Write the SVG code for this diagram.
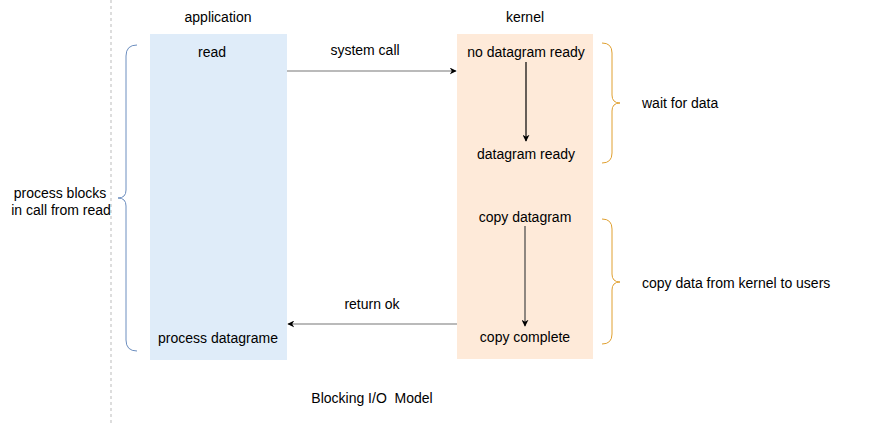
<svg xmlns="http://www.w3.org/2000/svg" width="874" height="425" viewBox="0 0 874 425">
<style>
text{font-family:"Liberation Sans",Arial,Helvetica,sans-serif;font-size:14px;fill:#000}
.c{text-anchor:middle}
.conn{fill:none;stroke-width:1.2}
.brace{fill:none;stroke-width:1}
</style>
<defs>
<marker id="ah" viewBox="0 0 10 10" refX="9" refY="5" markerWidth="7" markerHeight="7" markerUnits="userSpaceOnUse" orient="auto">
<path d="M0,0 L10,5 L0,10 L3,5 Z" fill="#000"/>
</marker>
</defs>
<rect width="874" height="425" fill="#fff"/>
<line x1="111" y1="0" x2="111" y2="425" stroke="#bbb" stroke-dasharray="3 3"/>
<g id="application">
<rect x="150" y="34" width="137" height="326" fill="#dfecf9"/>
<text class="c" x="218" y="22">application</text>
<text class="c" x="212" y="57">read</text>
<text class="c" x="218" y="343">process datagrame</text>
</g>
<g id="kernel">
<rect x="457" y="34" width="136" height="325" fill="#feead9"/>
<text class="c" x="525" y="22">kernel</text>
<text class="c" x="526" y="57">no datagram ready</text>
<text class="c" x="526" y="159">datagram ready</text>
<text class="c" x="525" y="222">copy datagram</text>
<text class="c" x="525" y="342">copy complete</text>
</g>
<g id="block-brace">
<path class="brace" stroke="#6c8ebf" d="M137,45 Q126,45 126,56 L126,190 Q126,198 118,198 Q126,198 126,206 L126,340 Q126,351 137,351"/>
<text class="c" x="60" y="198">process blocks</text>
<text class="c" x="61" y="215">in call from read</text>
</g>
<g id="wait-brace">
<path class="brace" stroke="#e0a030" d="M602,43 Q612,43 612,53 L612,95 Q612,103 620,103 Q612,103 612,111 L612,153 Q612,163 602,163"/>
<text x="642" y="108">wait for data</text>
</g>
<g id="copy-brace">
<path class="brace" stroke="#e0a030" d="M602,219 Q612,219 612,229 L612,274 Q612,282 620,282 Q612,282 612,290 L612,334 Q612,344 602,344"/>
<text x="642" y="288">copy data from kernel to users</text>
</g>
<g id="connectors">
<line class="conn" stroke="#777" x1="287" y1="71" x2="456" y2="71" marker-end="url(#ah)"/>
<text class="c" x="365" y="55">system call</text>
<line class="conn" stroke="#777" x1="457" y1="324" x2="288" y2="324" marker-end="url(#ah)"/>
<text class="c" x="372" y="309">return ok</text>
<line class="conn" stroke="#000" x1="526" y1="62" x2="526" y2="141" marker-end="url(#ah)"/>
<line class="conn" stroke="#444" x1="525" y1="226" x2="525" y2="326" marker-end="url(#ah)"/>
</g>
<text class="c" x="372" y="403" xml:space="preserve">Blocking I/O  Model</text>
</svg>
